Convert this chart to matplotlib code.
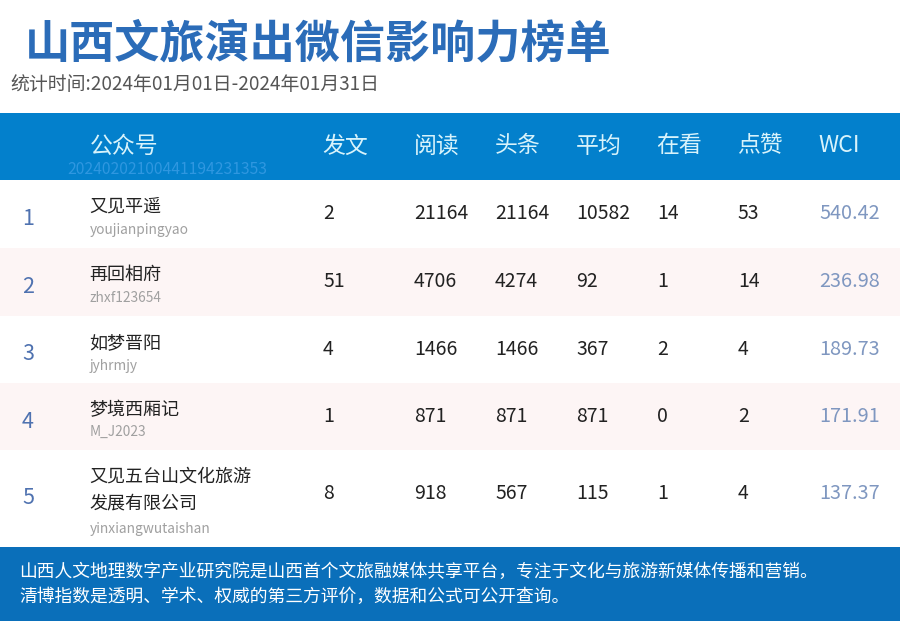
import matplotlib
matplotlib.use("Agg")
import matplotlib.pyplot as plt
from matplotlib.patches import Rectangle

plt.rcParams['font.family'] = ['Noto Sans CJK SC', 'DejaVu Sans']

title = "山西文旅演出微信影响力榜单"
subtitle = "统计时间:2024年01月01日-2024年01月31日"
headers = ["公众号", "发文", "阅读", "头条", "平均", "在看", "点赞", "WCI"]
stamp = "20240202100441194231353"
ranks = ["1", "2", "3", "4", "5"]
names = ["又见平遥", "再回相府", "如梦晋阳", "梦境西厢记", "又见五台山文化旅游\n发展有限公司"]
ids = ["youjianpingyao", "zhxf123654", "jyhrmjy", "M_J2023", "yinxiangwutaishan"]
posts = ["2", "51", "4", "1", "8"]
reads = ["21164", "4706", "1466", "871", "918"]
heads = ["21164", "4274", "1466", "871", "567"]
avgs = ["10582", "92", "367", "871", "115"]
watching = ["14", "1", "2", "0", "1"]
likes = ["53", "14", "4", "2", "4"]
wci = ["540.42", "236.98", "189.73", "171.91", "137.37"]
footer = ["山西人文地理数字产业研究院是山西首个文旅融媒体共享平台，专注于文化与旅游新媒体传播和营销。",
          "清博指数是透明、学术、权威的第三方评价，数据和公式可公开查询。"]

W, H = 900, 621
fig = plt.figure(figsize=(9, 6.21), dpi=100, facecolor="white")
ax = fig.add_axes([0, 0, 1, 1])
ax.set_xlim(0, W)
ax.set_ylim(H, 0)
ax.axis("off")

row_edges = [180, 248, 316, 383, 450, 547]
row_fill = ["#ffffff", "#fdf5f5", "#ffffff", "#fdf5f5", "#ffffff"]
col_x = [323, 414, 495, 576, 657, 738, 819]
head_x = [90] + col_x

ax.add_patch(Rectangle((0, 113), W, 67, fc="#0380cc", ec="none"))
ax.add_patch(Rectangle((0, 547), W, 74, fc="#0a6fba", ec="none"))
for i, c in enumerate(row_fill):
    ax.add_patch(Rectangle((0, row_edges[i]), W, row_edges[i + 1] - row_edges[i], fc=c, ec="none"))

ax.text(24.5, 44, title, fontsize=32.5, fontweight="bold", color="#2b6cb8", va="center", ha="left")
ax.text(10, 85, subtitle, fontsize=13.6, color="#555555", va="center", ha="left")

for x, h in zip(head_x, headers):
    ax.text(x - 0.5, 146, h, fontsize=16.5, color="#d8f3fb", va="center", ha="left")
ax.text(67, 170, stamp, fontsize=11.3, color="#2f97e0", va="center", ha="left")

rank_base = [225, 293, 360, 428, 504]
name_y = [207, 275, 343, 410, 490]
id_y = [230, 298, 366, 432, 529]
val_base = [219, 287, 355, 422, 499]
columns = [posts, reads, heads, avgs, watching, likes]

for i in range(5):
    ax.text(22, rank_base[i], ranks[i], fontsize=15.5, color="#4f72b0", va="baseline", ha="left")
    ax.text(89.5, name_y[i], names[i], fontsize=13, color="#222222", va="center", ha="left", linespacing=1.6)
    ax.text(90, id_y[i], ids[i], fontsize=9.9, color="#a0a0a0", va="center", ha="left")
    for x, col in zip(col_x, columns):
        ax.text(x, val_base[i], col[i], fontsize=14, color="#222222", va="baseline", ha="left")
    ax.text(819, val_base[i], wci[i], fontsize=14.3, color="#7f97c0", va="baseline", ha="left")

ax.text(19, 572, footer[0], fontsize=12.8, color="#ffffff", va="center", ha="left")
ax.text(19, 597, footer[1], fontsize=12.8, color="#ffffff", va="center", ha="left")

fig.savefig("out.png", dpi=100, facecolor="white")
